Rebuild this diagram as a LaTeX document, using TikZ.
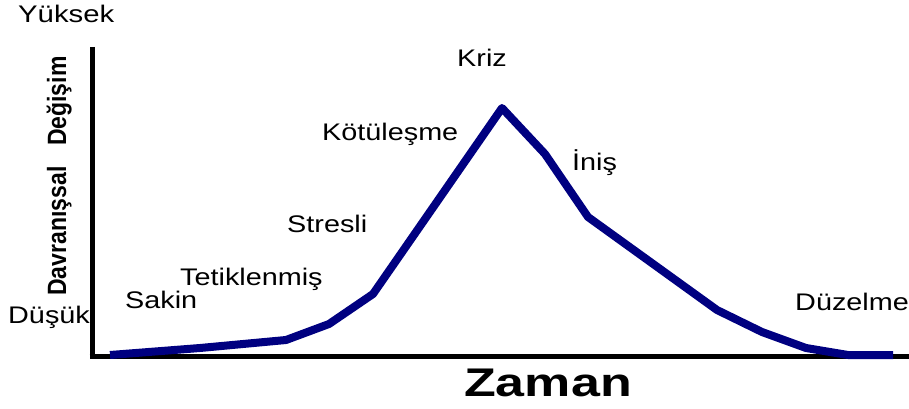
\documentclass[tikz,border=0pt]{standalone}
\usepackage{fontspec}
\setmainfont{Liberation Sans}
\begin{document}
\begin{tikzpicture}[x=1pt,y=-1pt,
  lbl/.style={anchor=base west,inner sep=0pt,font=\fontsize{24}{28}\selectfont},
  axis/.style={line width=5pt,black},
  curve/.style={line width=8pt,color={rgb,255:red,0;green,0;blue,128},line join=round}]
\useasboundingbox (0,0) rectangle (909,409);
\coordinate (top) at (92,47);
\coordinate (origin) at (92,356.5);
\coordinate (right) at (909,356.5);
\draw[axis] (top) -- ([yshift=-2.5pt]origin.center) ;
\draw[axis] ([xshift=-2.5pt]origin) -- (right);
\draw[curve] (110,355) -- (200,348) -- (286,340) -- (329,324) -- (373,294) -- (502,108) -- (545,154) -- (588,217) -- (717,310) -- (762,332) -- (806,348) -- (848,355) -- (893,355);
\node[lbl] (yuksek) at (18,23) {\scalebox{1.22}[1]{Yüksek}};
\node[lbl] (dusuk) at (8,323) {\scalebox{1.2}[1]{Düşük}};
\node[lbl] (sakin) at (125,308) {\scalebox{1.2}[1]{Sakin}};
\node[lbl] (tetik) at (180,285) {\scalebox{1.2}[1]{Tetiklenmiş}};
\node[lbl] (stresli) at (287,232) {\scalebox{1.2}[1]{Stresli}};
\node[lbl] (kotu) at (322,140) {\scalebox{1.2}[1]{Kötüleşme}};
\node[lbl] (kriz) at (457,67) {\scalebox{1.2}[1]{Kriz}};
\node[lbl] (inis) at (572,170) {\scalebox{1.2}[1]{İniş}};
\node[lbl] (duzelme) at (795,310) {\scalebox{1.2}[1]{Düzelme}};
\node[anchor=base,inner sep=0pt,font=\fontsize{40}{44}\selectfont\bfseries] (zaman) at (548,396) {\scalebox{1.3}[1]{Zaman}};
\node[rotate=90,anchor=base,inner sep=0pt,font=\fontsize{23}{27}\selectfont\bfseries] (ylabel) at (66,176) {\scalebox{1}[1.15]{Davranışsal\hspace{0.9em}Değişim}};
\end{tikzpicture}
\end{document}
